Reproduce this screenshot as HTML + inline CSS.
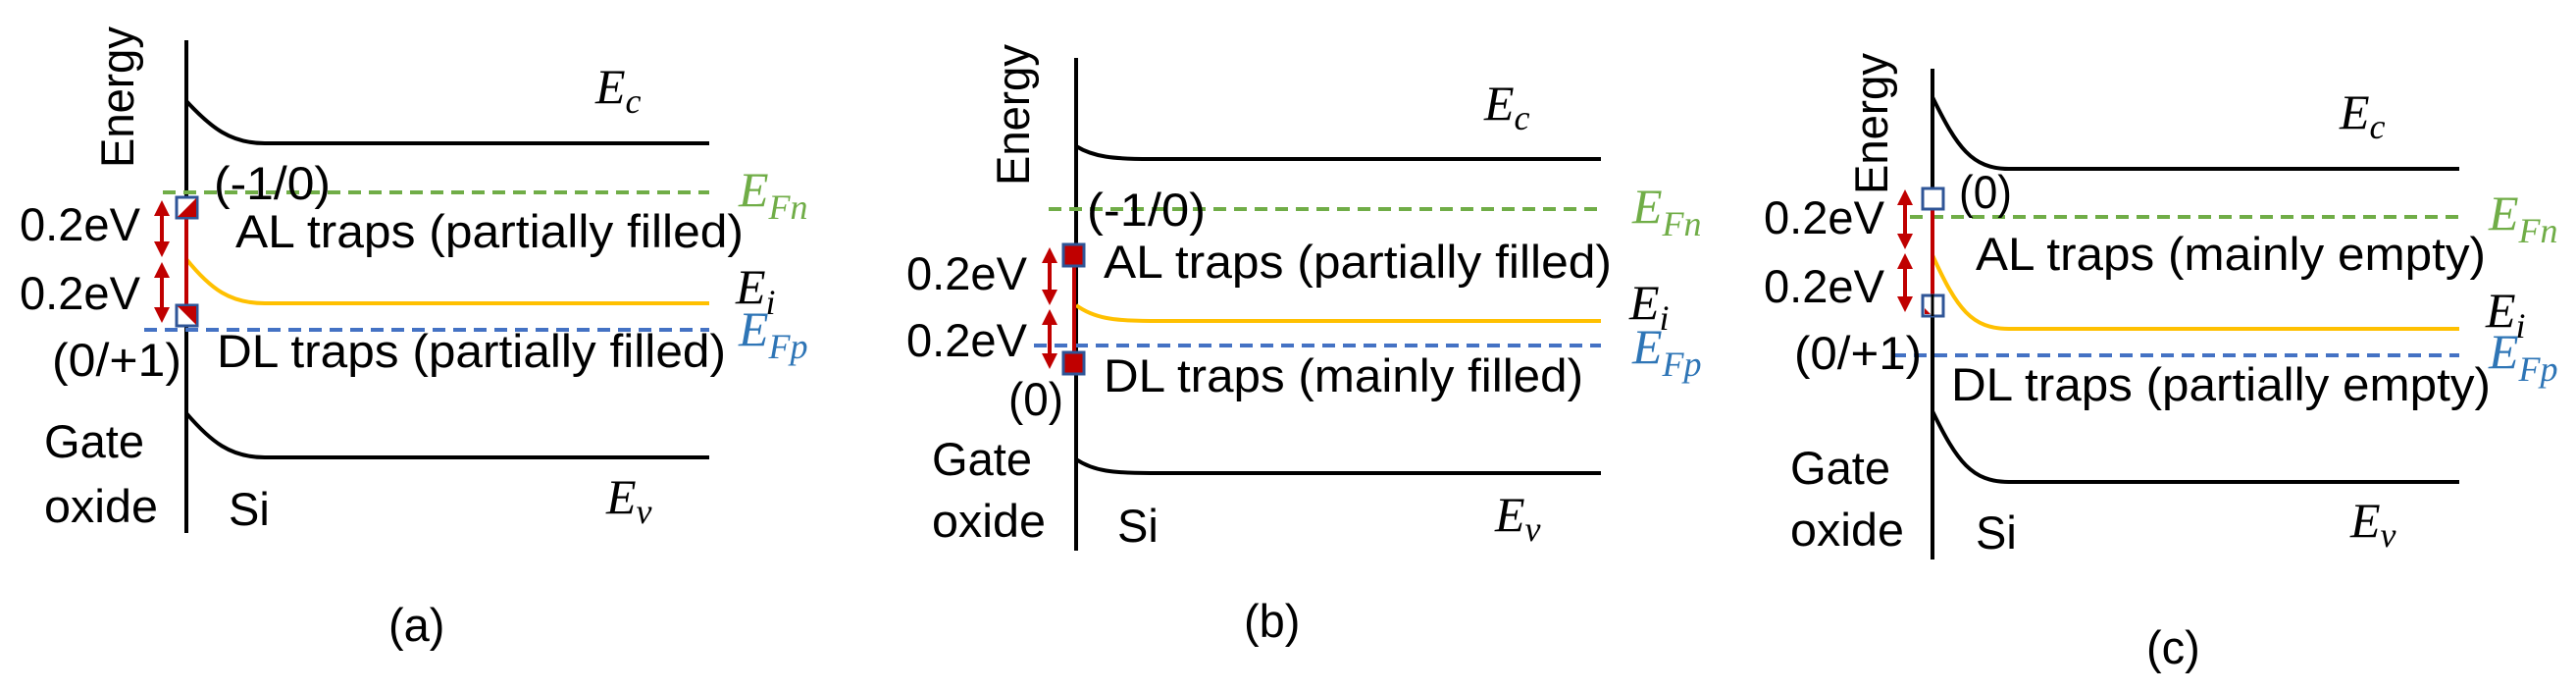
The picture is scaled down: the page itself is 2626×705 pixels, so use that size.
<!DOCTYPE html>
<html><head><meta charset="utf-8"><style>
html,body{margin:0;padding:0;background:#fff;}
svg{display:block}
.t{font-family:"Liberation Sans",sans-serif;font-size:47px;fill:#000}
.m{font-family:"Liberation Serif",serif;font-style:italic;font-size:50px}
.s{font-family:"Liberation Serif",serif;font-style:italic;font-size:36px}
</style></head><body>
<svg width="2626" height="705" viewBox="0 0 2626 705" xmlns="http://www.w3.org/2000/svg">
<g fill="none" stroke-width="4">
<line x1="190" y1="41" x2="190" y2="543" stroke="#000"/>
<path d="M190 103 C215 130,235 146,270 146 L723 146" stroke="#000"/>
<path d="M190 264 C215 295,235 309,270 309 L723 309" stroke="#ffc000"/>
<path d="M190 421 C215 450,235 466,270 466 L723 466" stroke="#000"/>
<line x1="166" y1="196" x2="723" y2="196" stroke="#70ad47" stroke-dasharray="13 8"/>
<line x1="147" y1="336" x2="723" y2="336" stroke="#4472c4" stroke-dasharray="13 8"/>
<line x1="1097" y1="59" x2="1097" y2="561" stroke="#000"/>
<path d="M1097 149 C1115 160,1135 162,1173 162 L1632 162" stroke="#000"/>
<path d="M1097 311 C1115 324,1135 327,1173 327 L1632 327" stroke="#ffc000"/>
<path d="M1097 468 C1115 480,1135 482,1173 482 L1632 482" stroke="#000"/>
<line x1="1069" y1="213" x2="1632" y2="213" stroke="#70ad47" stroke-dasharray="13 8"/>
<line x1="1054" y1="352" x2="1632" y2="352" stroke="#4472c4" stroke-dasharray="13 8"/>
<line x1="1970" y1="70" x2="1970" y2="570" stroke="#000"/>
<path d="M1970 99 C1995 150,2010 172,2048 172 L2507 172" stroke="#000"/>
<path d="M1970 260 C1995 315,2010 335,2048 335 L2507 335" stroke="#ffc000"/>
<path d="M1970 419 C1995 470,2010 491,2048 491 L2507 491" stroke="#000"/>
<line x1="1947" y1="221" x2="2507" y2="221" stroke="#70ad47" stroke-dasharray="13 8"/>
<line x1="1930" y1="362" x2="2507" y2="362" stroke="#4472c4" stroke-dasharray="13 8"/>
<line x1="190" y1="206" x2="190" y2="320" stroke="#c00000"/>
<line x1="1095" y1="262" x2="1095" y2="360" stroke="#c00000"/>
<line x1="1970" y1="212" x2="1970" y2="300" stroke="#c00000"/>
<g stroke="#c00000" stroke-width="4">
<line x1="165" y1="212" x2="165" y2="252"/><line x1="165" y1="276" x2="165" y2="318"/>
<line x1="1070" y1="260" x2="1070" y2="302"/><line x1="1070" y1="323" x2="1070" y2="366"/>
<line x1="1942" y1="202" x2="1942" y2="245"/><line x1="1942" y1="267" x2="1942" y2="308"/>
</g>
</g>
<g fill="#c00000">
<polygon points="165,204 157,220 173,220"/><polygon points="165,262 157,246 173,246"/>
<polygon points="165,267 157,283 173,283"/><polygon points="165,329 157,313 173,313"/>
<polygon points="1070,252 1062,268 1078,268"/><polygon points="1070,311 1062,295 1078,295"/>
<polygon points="1070,315 1062,331 1078,331"/><polygon points="1070,376 1062,360 1078,360"/>
<polygon points="1942,193 1934,209 1950,209"/><polygon points="1942,254 1934,238 1950,238"/>
<polygon points="1942,258 1934,274 1950,274"/><polygon points="1942,318 1934,302 1950,302"/>
</g>
<rect x="180" y="201" width="21" height="21" fill="#fff" stroke="#2f5597" stroke-width="3"/>
<polygon points="200,202 200,221 181,221" fill="#c00000"/>
<rect x="180" y="311" width="21" height="21" fill="#fff" stroke="#2f5597" stroke-width="3"/>
<polygon points="181,312 200,312 200,331" fill="#c00000"/>
<rect x="1084" y="249" width="21" height="22" fill="#c00000" stroke="#2f5597" stroke-width="3"/>
<rect x="1084" y="359" width="21" height="22" fill="#c00000" stroke="#2f5597" stroke-width="3"/>
<rect x="1960" y="192" width="21" height="21" fill="#fff" stroke="#2f5597" stroke-width="3"/>
<rect x="1960" y="301" width="21" height="21" fill="#fff" stroke="#2f5597" stroke-width="3"/>
<line x1="1970" y1="300" x2="1970" y2="322" stroke="#000" stroke-width="3"/>
<polygon points="1962,314 1962,320 1968,320" fill="#c00000"/>

<text class="t" transform="translate(136,171) rotate(-90)" textLength="144" lengthAdjust="spacingAndGlyphs">Energy</text>
<text class="t" x="218" y="203" textLength="119" lengthAdjust="spacingAndGlyphs">(-1/0)</text>
<text class="t" x="20" y="245" textLength="123" lengthAdjust="spacingAndGlyphs">0.2eV</text>
<text class="t" x="20" y="315" textLength="123" lengthAdjust="spacingAndGlyphs">0.2eV</text>
<text class="t" x="240" y="252" textLength="518" lengthAdjust="spacingAndGlyphs">AL traps (partially filled)</text>
<text class="t" x="53" y="383" textLength="132" lengthAdjust="spacingAndGlyphs">(0/+1)</text>
<text class="t" x="221" y="374" textLength="519" lengthAdjust="spacingAndGlyphs">DL traps (partially filled)</text>
<text class="t" x="45" y="466" textLength="102" lengthAdjust="spacingAndGlyphs">Gate</text>
<text class="t" x="45" y="532" textLength="116" lengthAdjust="spacingAndGlyphs">oxide</text>
<text class="t" x="233" y="535">Si</text>
<text class="t" x="396" y="653">(a)</text>
<text class="m" x="607" y="105">E<tspan class="s" dy="10">c</tspan></text>
<text class="m" x="753" y="210" fill="#70ad47">E<tspan class="s" dy="13">Fn</tspan></text>
<text class="m" x="750" y="309">E<tspan class="s" dy="11">i</tspan></text>
<text class="m" x="753" y="352" fill="#2e75b6">E<tspan class="s" dy="13">Fp</tspan></text>
<text class="m" x="618" y="523">E<tspan class="s" dy="10">v</tspan></text>

<text class="t" transform="translate(1049,189) rotate(-90)" textLength="144" lengthAdjust="spacingAndGlyphs">Energy</text>
<text class="t" x="1108" y="230" textLength="121" lengthAdjust="spacingAndGlyphs">(-1/0)</text>
<text class="t" x="924" y="295" textLength="123" lengthAdjust="spacingAndGlyphs">0.2eV</text>
<text class="t" x="924" y="363" textLength="123" lengthAdjust="spacingAndGlyphs">0.2eV</text>
<text class="t" x="1125" y="283" textLength="518" lengthAdjust="spacingAndGlyphs">AL traps (partially filled)</text>
<text class="t" x="1028" y="423" textLength="56" lengthAdjust="spacingAndGlyphs">(0)</text>
<text class="t" x="1125" y="399" textLength="489" lengthAdjust="spacingAndGlyphs">DL traps (mainly filled)</text>
<text class="t" x="950" y="484" textLength="102" lengthAdjust="spacingAndGlyphs">Gate</text>
<text class="t" x="950" y="547" textLength="116" lengthAdjust="spacingAndGlyphs">oxide</text>
<text class="t" x="1139" y="552">Si</text>
<text class="t" x="1268" y="649">(b)</text>
<text class="m" x="1513" y="122">E<tspan class="s" dy="10">c</tspan></text>
<text class="m" x="1664" y="227" fill="#70ad47">E<tspan class="s" dy="13">Fn</tspan></text>
<text class="m" x="1661" y="325">E<tspan class="s" dy="11">i</tspan></text>
<text class="m" x="1664" y="370" fill="#2e75b6">E<tspan class="s" dy="13">Fp</tspan></text>
<text class="m" x="1524" y="541">E<tspan class="s" dy="10">v</tspan></text>

<text class="t" transform="translate(1924,198) rotate(-90)" textLength="144" lengthAdjust="spacingAndGlyphs">Energy</text>
<text class="t" x="1997" y="212" textLength="54" lengthAdjust="spacingAndGlyphs">(0)</text>
<text class="t" x="1798" y="238" textLength="123" lengthAdjust="spacingAndGlyphs">0.2eV</text>
<text class="t" x="1798" y="308" textLength="123" lengthAdjust="spacingAndGlyphs">0.2eV</text>
<text class="t" x="2014" y="275" textLength="520" lengthAdjust="spacingAndGlyphs">AL traps (mainly empty)</text>
<text class="t" x="1829" y="376" textLength="130" lengthAdjust="spacingAndGlyphs">(0/+1)</text>
<text class="t" x="1989" y="408" textLength="550" lengthAdjust="spacingAndGlyphs">DL traps (partially empty)</text>
<text class="t" x="1825" y="493" textLength="102" lengthAdjust="spacingAndGlyphs">Gate</text>
<text class="t" x="1825" y="556" textLength="116" lengthAdjust="spacingAndGlyphs">oxide</text>
<text class="t" x="2014" y="559">Si</text>
<text class="t" x="2188" y="676">(c)</text>
<text class="m" x="2385" y="131">E<tspan class="s" dy="10">c</tspan></text>
<text class="m" x="2537" y="234" fill="#70ad47">E<tspan class="s" dy="13">Fn</tspan></text>
<text class="m" x="2534" y="333">E<tspan class="s" dy="11">i</tspan></text>
<text class="m" x="2537" y="375" fill="#2e75b6">E<tspan class="s" dy="13">Fp</tspan></text>
<text class="m" x="2396" y="547">E<tspan class="s" dy="10">v</tspan></text>
</svg>
</body></html>
